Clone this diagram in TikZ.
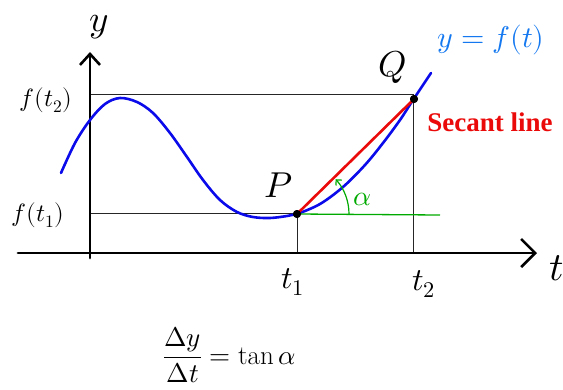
\documentclass[tikz,border=0pt]{standalone}
\usepackage{fontspec}
\usepackage{unicode-math}
\newfontfamily\serifbold{Liberation Serif}
\usetikzlibrary{arrows.meta}
\definecolor{curveblue}{RGB}{10,10,235}
\definecolor{labelblue}{RGB}{20,120,240}
\definecolor{secred}{RGB}{235,10,10}
\definecolor{anggreen}{RGB}{0,170,0}
\begin{document}
\begin{tikzpicture}[x=1pt,y=-1pt,
  axis/.style={line width=2.8pt, line cap=round},
  guide/.style={line width=0.9pt, black!85},
  lbl/.style={inner sep=0pt},
  dotstyle/.style={circle, fill=black, inner sep=0pt, minimum size=8pt}]
\useasboundingbox (0,0) rectangle (563,389);
% reference points
\coordinate (ytop) at (90,52);
\coordinate (ybot) at (90,258);
\coordinate (tleft) at (18,253);
\coordinate (tright) at (537,253);
\coordinate (ft2) at (90,94);
\coordinate (ft1) at (90,213);
\coordinate (Pax) at (297,253);
\coordinate (Qax) at (413,253);
\coordinate (Qh) at (413,94);
\coordinate (Ph) at (297,213);
\coordinate (gend) at (440,215);
% guide lines
\draw[guide] (ft2) -- (Qh);
\draw[guide] (ft1) -- (Ph);
\draw[guide] (Ph) -- (Pax);
\draw[guide] (Qh) -- (Qax);
% axes
\draw[axis, -{Straight Barb[length=11pt,width=20pt,line width=2.6pt]}] (ybot) -- (ytop);
\draw[axis, -{Straight Barb[length=14pt,width=28pt,line width=2.6pt]}] (tleft) -- (tright);
% curve
\draw[curveblue, line width=2.6pt, line cap=round] plot[smooth, tension=0.55] coordinates {
 (61,173) (75,143) (90,120) (105,104) (120,98) (137,102) (153,113) (170,133)
 (187,157) (203,180) (220,200) (237,212) (253,217) (270,218) (287,216) (297,214)
 (320,204) (343,187) (365,165) (383,143) (400,120) (413,100) (431,73)};
% green horizontal
\draw[anggreen, line width=1.3pt] (297,214) -- (gend);
% secant
\node[dotstyle] (P) at (297,214) {};
\node[dotstyle] (Q) at (414,99) {};
\draw[secred, line width=2.6pt] (P.center) -- (Q.center);
\node[dotstyle] at (297,214) {};
\node[dotstyle] at (414,99) {};
% angle arc
\draw[anggreen, line width=1.2pt, -{Straight Barb[length=4pt,width=8pt]}]
  ([shift={(52pt,0pt)}]P.center) arc[start angle=0, end angle=42, radius=52pt];
\node[lbl, anggreen, font=\fontsize{28}{30}\selectfont] (alpha) at (362,199) {$\alpha$};
% labels
\node[lbl, font=\fontsize{37}{40}\selectfont] (ylab) at (99,27) {$y$};
\node[lbl, font=\fontsize{40}{42}\selectfont] (tlab) at (557,268) {$t$};
\node[lbl, font=\fontsize{25}{27}\selectfont] (ft2lab) at (46,100) {$f(t_2)$};
\node[lbl, font=\fontsize{25}{27}\selectfont] (ft1lab) at (38,215) {$f(t_1)$};
\node[lbl, font=\fontsize{32}{34}\selectfont] (t1lab) at (293,282) {$t_1$};
\node[lbl, font=\fontsize{32}{34}\selectfont] (t2lab) at (424,284) {$t_2$};
\node[lbl, font=\fontsize{36}{38}\selectfont] (Plab) at (279,185) {$P$};
\node[lbl, font=\fontsize{36}{38}\selectfont] (Qlab) at (393,67) {$Q$};
\node[lbl, labelblue, font=\fontsize{30}{32}\selectfont] (eqlab) at (491,40) {$y=f(t)$};
\node[lbl, secred, font=\serifbold\bfseries\fontsize{27}{29}\selectfont] (seclab) at (490,122) {Secant line};
\node[lbl, font=\fontsize{27}{30}\selectfont, anchor=west] (formula) at (163,355) {$\dfrac{\Delta y}{\Delta t}=\tan\alpha$};
\end{tikzpicture}
\end{document}
